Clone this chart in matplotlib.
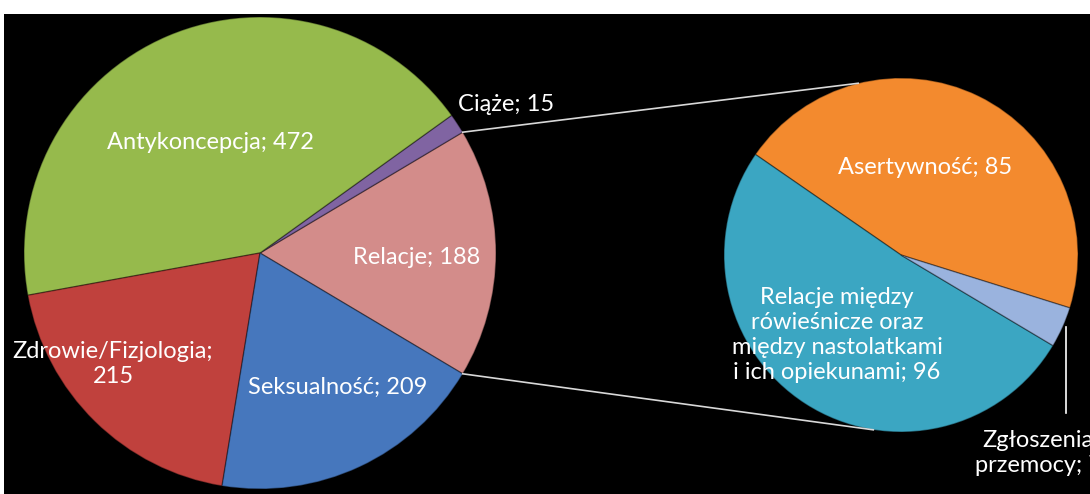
import matplotlib
matplotlib.use("Agg")
import matplotlib.pyplot as plt
import numpy as np

# main pie (counterclockwise from the split slice on the right)
main_labels = ["Relacje", "Ciąże", "Antykoncepcja", "Zdrowie/Fizjologia", "Seksualność"]
main_values = [188, 15, 472, 215, 209]
main_colors = ["#D38C8A", "#8064A2", "#96BA4C", "#C0413D", "#4677BD"]

# secondary pie: breakdown of "Relacje"
sub_labels = ["Asertywność",
              "Relacje między rówieśnicze oraz między nastolatkami i ich opiekunami",
              "Zgłoszenia przemocy"]
sub_values = [85, 96, 7]
sub_colors = ["#F38A2E", "#3BA6C2", "#9AB3DE"]

plt.rcParams['font.family'] = ['Lato', 'DejaVu Sans']

fig = plt.figure(figsize=(10.9, 4.94), dpi=100, facecolor="white")
ax = fig.add_axes([4 / 1090, 0, 1086 / 1090, 480 / 494])
ax.set_facecolor("black")

main_c, main_r = (260, 241), 236
sub_c, sub_r = (901, 239), 177

total = sum(main_values)
start = -main_values[0] / total * 180
wp = dict(edgecolor=(0, 0, 0, 0.35), linewidth=1.0)
ax.pie(main_values, colors=main_colors, startangle=start, counterclock=True,
       center=main_c, radius=main_r, wedgeprops=wp, frame=True)
ax.pie(sub_values, colors=sub_colors, startangle=-17.4, counterclock=True,
       center=sub_c, radius=sub_r, wedgeprops=wp, frame=True)

# connector lines between the pies
a = np.deg2rad(start)
p_top = (main_c[0] + main_r * np.cos(a), main_c[1] - main_r * np.sin(a))
p_bot = (main_c[0] + main_r * np.cos(a), main_c[1] + main_r * np.sin(a))
t1, t2 = np.deg2rad(104), np.deg2rad(-99)
q_top = (sub_c[0] + sub_r * np.cos(t1), sub_c[1] + sub_r * np.sin(t1))
q_bot = (sub_c[0] + sub_r * np.cos(t2), sub_c[1] + sub_r * np.sin(t2))
ax.plot([p_top[0], q_top[0]], [p_top[1], q_top[1]], color="#d8d8d8", lw=1.2)
ax.plot([p_bot[0], q_bot[0]], [p_bot[1], q_bot[1]], color="#d8d8d8", lw=1.2)

fs = 17
tk = dict(color="white", fontsize=fs, ha="center", va="center", linespacing=1.25)
ax.text(210, 352, f"{main_labels[2]}; {main_values[2]}", **tk)
ax.text(506, 390, f"{main_labels[1]}; {main_values[1]}", **tk)
ax.text(417, 237, f"{main_labels[0]}; {main_values[0]}", **tk)
ax.text(113, 130, f"{main_labels[3]};\n{main_values[3]}", **tk)
ax.text(338, 107, f"{main_labels[4]}; {main_values[4]}", **tk)
ax.text(925, 327, f"{sub_labels[0]}; {sub_values[0]}", **tk)
ax.text(837, 159, "Relacje między\nrówieśnicze oraz\nmiędzy nastolatkami\ni ich opiekunami; "
        + str(sub_values[1]), **tk)
ax.text(1038, 41, f"Zgłoszenia\nprzemocy; {sub_values[2]}", **tk)
ax.plot([1066, 1066], [167, 81], color="white", lw=1.2)

ax.set_xlim(4, 1090)
ax.set_ylim(0, 480)
ax.set_aspect("auto")
ax.set_xticks([])
ax.set_yticks([])
for s in ax.spines.values():
    s.set_visible(False)

fig.savefig("out.png", dpi=100, facecolor="white")
